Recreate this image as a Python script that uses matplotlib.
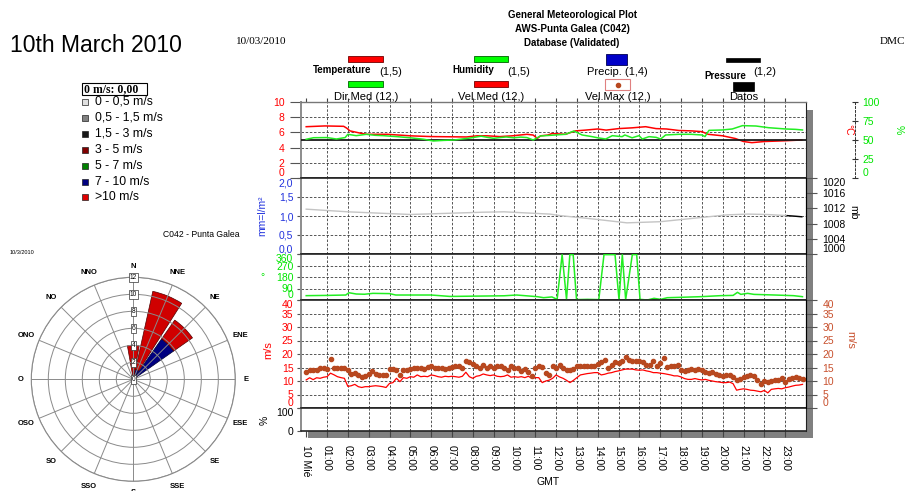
import numpy as np
import matplotlib
matplotlib.use('Agg')
import matplotlib.pyplot as plt
from matplotlib.patches import Rectangle
from matplotlib.lines import Line2D

plt.rcParams['font.family'] = ['Liberation Sans', 'DejaVu Sans']

# ---------------- data ----------------
hour_labels = ['10 Mié', '01:00', '02:00', '03:00', '04:00', '05:00', '06:00', '07:00',
               '08:00', '09:00', '10:00', '11:00', '12:00', '13:00', '14:00', '15:00',
               '16:00', '17:00', '18:00', '19:00', '20:00', '21:00', '22:00', '23:00']

temp_hours = [0, 0.9, 1.8, 1.95, 2.1, 2.6, 2.9, 3.9, 5.0, 6.0, 7.7, 8.2, 8.7, 9.3, 9.9, 10.6,
              10.9, 11.1, 11.25, 11.6, 11.8, 12.45, 12.93, 13.4, 14.0, 14.4, 15.0, 15.65, 16.3,
              16.8, 17.3, 17.9, 18.5, 19.0, 19.3, 20.0, 20.6, 21.0, 21.4, 22.0, 23.0, 23.8]
temp_values = [6.75, 6.85, 6.8, 6.55, 6.2, 5.9, 5.75, 5.75, 5.55, 5.45, 5.4, 5.55, 5.55, 5.45,
               5.55, 5.75, 5.65, 5.2, 5.55, 5.65, 5.85, 5.75, 6.2, 6.3, 6.45, 6.3, 6.5, 6.6,
               6.75, 6.5, 6.45, 6.25, 6.2, 6.1, 5.75, 5.55, 5.2, 4.8, 4.65, 4.8, 4.9, 5.0]

hum_hours = [0, 0.35, 1.0, 1.45, 1.87, 2.0, 2.4, 2.9, 3.3, 3.7, 4.36, 5.0, 5.64, 6.1, 6.6, 7.1,
             7.7, 8.0, 8.4, 8.7, 9.0, 9.3, 9.6, 9.97, 10.3, 10.6, 10.9, 11.25, 11.7, 11.97, 12.45,
             12.85, 13.25, 13.73, 14.0, 14.38, 14.7, 15.17, 15.3, 15.65, 15.98, 16.14, 16.46,
             16.8, 17.02, 17.26, 17.9, 18.5, 19.0, 19.15, 19.34, 19.98, 20.46, 20.95, 21.6,
             22.2, 23.03, 23.5, 23.83]
hum_values = [50.9, 53, 53.2, 51.3, 53.2, 57.5, 55.7, 57.5, 56.2, 55.7, 54.4, 52.9, 51, 48.7,
              49.5, 50, 52, 53.2, 55.0, 53.5, 52.2, 53.2, 54.0, 52.9, 53.8, 53.2, 50, 55.3, 56.1,
              56.6, 57.5, 61.8, 56.6, 54.4, 52.9, 51.3, 55.7, 54.4, 56.6, 52.9, 55.7, 51.3, 54.4,
              53.5, 51.3, 56.6, 57.5, 57.5, 56.6, 54.5, 62.7, 63.2, 64.5, 68.9, 68.4, 66.2,
              64.5, 64, 63.2]

pres_hours = [0, 2, 5, 8.5, 9.5, 11.7, 12.2, 13.8, 15.4, 17.0, 18.6, 20.2, 21.2, 22.1, 23.1, 23.8]
pres_values = [1011.8, 1011.1, 1010.4, 1011.0, 1011.1, 1010.5, 1010.1, 1009.2, 1008.2, 1008.5,
               1009.4, 1010.3, 1010.5, 1010.4, 1010.1, 1009.8]

dir_hours = [0, 1.0, 1.9, 2.05, 2.4, 2.8, 3.2, 4.0, 4.3, 6.0, 6.9, 8.5, 9.5, 10.1, 11.1, 11.4,
             11.8, 12.05, 12.29, 12.5, 12.66, 12.82, 12.98, 13.5, 14.05, 14.3, 14.83, 15.02,
             15.18, 15.34, 15.66, 15.87, 16.03, 16.38, 16.7, 17.02, 17.34, 17.98, 18.94, 19.9,
             20.5, 20.71, 20.87, 21.2, 21.5, 22.5, 23.4, 23.83]
dir_values = [34, 36, 39, 57, 47, 45, 52, 50, 39, 39, 28, 31, 33, 39, 26, 18, 24, 5, 355, 5,
              355, 355, 3, 5, 3, 355, 355, 3, 355, 3, 355, 355, 5, 0, 13, 5, 18, 21, 26, 34,
              36, 60, 44, 52, 44, 39, 34, 26]

# wind speed, 10-minute samples starting at 00:00
wind_mean = [10.4, 11.2, 10.5, 11.2, 11.0, 11.4, 11.6, 12.9, 12.3, 11.6, 11.25, 11.0,
             8.0, 8.25, 8.75, 7.9, 7.6, 7.9, 7.9, 8.1, 8.25, 8.1, 7.9, 7.6,
             9.1, 9.4, 11.0, 9.75, 11.25, 11.0, 11.6, 11.4, 12.25, 11.6, 11.75, 11.6,
             12.25, 12.0, 11.6, 11.4, 11.75, 11.6, 11.75, 11.6, 11.4, 11.75, 13.25, 11.6,
             11.0, 11.75, 12.0, 12.6, 12.25, 12.0, 12.25, 11.75, 11.6, 11.75, 12.25, 11.4,
             11.6, 11.4, 11.6, 11.25, 11.75, 11.0, 11.25, 11.25, 9.4, 10.0, 10.3, 11.0,
             12.25, 11.5, 11.0, 10.25, 9.4, 10.25, 11.25, 12.25, 12.5, 12.75, 12.9, 13.1,
             13.1, 12.25, 12.5, 12.9, 13.1, 13.5, 13.75, 14.1, 14.4, 14.4, 14.4, 14.1,
             14.0, 14.1, 13.75, 13.5, 13.1, 13.1, 12.9, 12.75, 12.5, 12.25, 11.9, 11.9,
             11.5, 10.9, 10.6, 10.6, 10.9, 10.6, 10.4, 10.6, 10.25, 10.0, 9.75, 9.6,
             9.4, 9.4, 9.6, 9.0, 6.6, 6.9, 7.1, 6.9, 6.6, 6.5, 6.25, 6.0,
             6.5, 5.6, 6.9, 7.1, 7.25, 7.1, 7.5, 7.75, 8.1, 8.4, 8.5, 8.75]
wind_gust = [13.3, 14.1, 13.9, 13.9, 14.7, 14.7, 14.3, 18.2, 15.0, 14.8, 15.0, 14.8,
             13.9, 12.6, 13.0, 12.3, 11.6, 12.0, 12.5, 13.8, 12.5, 12.3, 12.3, 12.1,
             14.4, 14.4, 14.1, 12.3, 14.1, 14.1, 14.4, 15.0, 14.8, 14.8, 14.4, 15.1,
             15.4, 15.0, 15.0, 14.8, 14.4, 14.8, 15.1, 15.4, 15.4, 14.8, 17.5, 17.0,
             16.3, 15.6, 15.0, 15.8, 14.8, 15.4, 15.0, 15.6, 15.4, 14.8, 14.1, 15.4,
             15.0, 15.0, 13.8, 14.5, 13.3, 12.0, 15.0, 15.4, 15.3, 12.9, 12.3, 15.4,
             15.0, 15.9, 14.75, 14.1, 14.1, 14.4, 15.6, 15.4, 15.4, 15.4, 15.4, 15.6,
             16.25, 16.9, 17.75, 15.0, 15.9, 17.1, 16.5, 17.5, 19.0, 17.9, 17.5, 17.25,
             17.25, 17.1, 15.9, 15.9, 17.5, 15.6, 16.6, 18.5, 15.25, 15.4, 15.4, 15.9,
             14.0, 13.75, 14.1, 14.4, 14.1, 14.4, 14.1, 13.5, 13.1, 13.4, 12.75, 12.25,
             11.9, 12.25, 12.25, 11.6, 10.25, 10.9, 11.5, 11.75, 12.25, 11.9, 10.25, 8.75,
             10.0, 9.6, 10.0, 10.25, 10.4, 11.25, 9.75, 10.6, 11.25, 11.5, 11.0, 10.9]
wind_times = np.arange(len(wind_mean)) / 6.0

rose_dirs = ['N', 'NNE', 'NE', 'ENE', 'E', 'ESE', 'SE', 'SSE',
             'S', 'SSO', 'SO', 'OSO', 'O', 'ONO', 'NO', 'NNO']
rose_7_10 = [0.0, 1.2, 5.8] + [0.0] * 13
rose_gt10 = [4.0, 9.4, 2.7] + [0.0] * 13
rose_ring_values = [0, 2, 4, 6, 8, 10, 12]

speed_classes = ['0 - 0,5 m/s', '0,5 - 1,5 m/s', '1,5 - 3 m/s', '3 - 5 m/s',
                 '5 - 7 m/s', '7 - 10 m/s', '>10 m/s']
speed_colors = ['#e0e0e0', '#808080', '#181818', '#800000', '#008000', '#000080', '#dd0000']

# ---------------- layout helpers ----------------
W, H = 909, 491
fig = plt.figure(figsize=(W / 100, H / 100), dpi=100)


def frac_rect(x0, y0, x1, y1):
    return [x0 / W, 1 - y1 / H, (x1 - x0) / W, (y1 - y0) / H]


def fx(x):
    return x / W


def fy(y):
    return 1 - y / H


def box(x0, y0, x1, y1, **kw):
    r = Rectangle((fx(x0), fy(y1)), (x1 - x0) / W, (y1 - y0) / H,
                  transform=fig.transFigure, **kw)
    fig.add_artist(r)
    return r


def ftext(x, y, s, **kw):
    kw.setdefault('va', 'center')
    return fig.text(fx(x), fy(y), s, **kw)


RED = '#ff0000'
GREEN = '#00e600'
BLUE = '#2233dd'
BROWN = '#b8481f'
GRID = dict(color='#3a3a3a', lw=0.6, ls=(0, (3, 2)))
TS = 7.5

# ---------------- header ----------------
ftext(10, 45, '10th March 2010', fontsize=16.5)
ftext(236, 41, '10/03/2010', fontsize=8, family='Liberation Serif')
ftext(880, 41, 'DMC', fontsize=8, family='Liberation Serif')
for txt, y in [('General Meteorological Plot', 15), ('AWS-Punta Galea (C042)', 29),
               ('Database (Validated)', 43)]:
    ftext(572, y, txt, fontsize=7, weight='bold', ha='center')

# legend row 1
box(348, 56, 383, 62, fc='#ff0000', ec='#700000', lw=0.6)
ftext(313, 70, 'Temperature', fontsize=7, weight='bold')
ftext(379, 72, '(1,5)', fontsize=8)
box(474, 56, 508, 62, fc='#00ff00', ec='#006000', lw=0.6)
ftext(452, 70, 'Humidity', fontsize=7, weight='bold')
ftext(507, 72, '(1,5)', fontsize=8)
box(606, 54, 627, 65, fc='#0000c8', ec='#000050', lw=0.6)
ftext(617, 72, 'Precip. (1,4)', fontsize=8, ha='center')
box(726, 58, 760, 62, fc='black', ec='black', lw=0.5)
ftext(704, 76, 'Pressure', fontsize=7, weight='bold')
ftext(753, 72, '(1,2)', fontsize=8)
# legend row 2
box(348, 81, 383, 87, fc='#00ff00', ec='#006000', lw=0.6)
ftext(366, 97, 'Dir.Med (12,)', fontsize=8, ha='center')
box(474, 81, 508, 87, fc='#ff0000', ec='#700000', lw=0.6)
ftext(491, 97, 'Vel.Med (12,)', fontsize=8, ha='center')
box(605, 79, 630, 90, fc='white', ec='#e08080', lw=0.8)
fig.add_artist(Line2D([fx(617.5)], [fy(84.5)], marker='o', ms=3, color=BROWN,
                      transform=fig.transFigure))
ftext(618, 97, 'Vel.Max (12,)', fontsize=8, ha='center')
box(733, 82, 754, 91, fc='black', ec='black', lw=0.5)
ftext(743.5, 97, 'Datos', fontsize=8, ha='center')

# ---------------- main panels ----------------
X0, X1 = 301, 806
panel_y = [(102, 178), (178, 254), (254, 300), (300, 408), (408, 431)]

# drop shadow
box(806, 110, 813, 438, fc='#808080', ec='none', zorder=-1)
box(308, 431, 813, 438, fc='#808080', ec='none', zorder=-1)

axes = []
for (y0, y1) in panel_y:
    ax = fig.add_axes(frac_rect(X0, y0, X1, y1))
    ax.set_xlim(-0.25, 24)
    ax.set_xticks(range(24))
    ax.tick_params(axis='x', bottom=False, top=False, labelbottom=False)
    for h in range(1, 24):
        ax.axvline(h, zorder=1, **GRID)
    ax.spines['left'].set_color('#8c8c8c')
    ax.spines['left'].set_linewidth(1.4)
    ax.spines['right'].set_color('#222')
    ax.spines['right'].set_linewidth(0.8)
    for s in ('top', 'bottom'):
        ax.spines[s].set_color('#222')
        ax.spines[s].set_linewidth(1.2)
    axes.append(ax)
ax1, ax2, ax3, ax4, ax5 = axes


def push_ends(ax, bottom=True, top=True):
    ticks = ax.yaxis.get_major_ticks()
    if bottom:
        ticks[0].label1.set_va('bottom')
        ticks[0].label2.set_va('bottom')
    if top:
        ticks[-1].label1.set_va('top')
        ticks[-1].label2.set_va('top')


def right_ticks(ax, color):
    ax.tick_params(axis='y', left=False, labelleft=False, right=True, labelright=True,
                   length=8, pad=4, color='#555', labelcolor=color, labelsize=TS,
                   direction='out')


def left_ticks(ax, color):
    ax.tick_params(axis='y', left=True, labelleft=True, right=False, labelright=False,
                   length=3, pad=2.5, color='#555', labelcolor=color, labelsize=TS,
                   direction='out')


# panel 1: temperature / humidity
ax1.set_ylim(0, 10)
ax1.set_yticks([0, 2, 4, 6, 8, 10])
right_ticks(ax1, RED)
for v in [2, 4, 6, 8]:
    ax1.axhline(v, zorder=1, **GRID)
ax1.tick_params(axis='x', top=True, length=3, color='#444', direction='out')
ax1.spines['top'].set_color('#777')
ax1.spines['top'].set_linewidth(1.0)
ax1.plot(temp_hours, temp_values, color=RED, lw=1.1, zorder=4)
push_ends(ax1, top=False)

ax1h = ax1.twinx()
ax1h.set_xlim(-0.25, 24)
ax1h.set_ylim(0, 100)
ax1h.set_yticks([0, 25, 50, 75, 100])
for s in ('left', 'top', 'bottom'):
    ax1h.spines[s].set_visible(False)
ax1h.spines['right'].set_position(('outward', 35))
ax1h.spines['right'].set_linestyle((0, (2, 2)))
ax1h.spines['right'].set_linewidth(0.7)
ax1h.spines['right'].set_color('#333')
ax1h.tick_params(axis='y', length=5, pad=3, direction='inout', color='#333',
                 labelcolor=GREEN, labelsize=TS)
ax1h.axhline(50, color='#1a1a1a', lw=1.3, zorder=2)
ax1h.plot(hum_hours, hum_values, color='#22ee22', lw=1.1, zorder=3)
push_ends(ax1h, top=False)

# panel 2: precipitation / pressure
ax2.set_ylim(0, 2)
ax2.set_yticks([0, 0.5, 1, 1.5, 2])
ax2.set_yticklabels(['0,0', '0,5', '1,0', '1,5', '2,0'])
left_ticks(ax2, BLUE)
for v in [0.5, 1.0, 1.5]:
    ax2.axhline(v, zorder=1, **GRID)
push_ends(ax2)

ax2r = ax2.twinx()
ax2r.set_xlim(-0.25, 24)
ax2r.set_ylim(1000, 1020)
ax2r.set_yticks([1000, 1004, 1008, 1012, 1016, 1020])
for s in ('left', 'top', 'bottom'):
    ax2r.spines[s].set_visible(False)
right_ticks(ax2r, 'black')
ax2r.plot(pres_hours, pres_values, color='#c4c4c4', lw=1.0, zorder=3)
ax2r.plot(pres_hours[-2:], pres_values[-2:], color='black', lw=1.0, zorder=3)
push_ends(ax2r)

# panel 3: direction
ax3.set_ylim(0, 360)
ax3.set_yticks([0, 90, 180, 270, 360])
left_ticks(ax3, GREEN)
for v in [90, 180, 270]:
    ax3.axhline(v, zorder=1, **GRID)
ax3.plot(dir_hours, dir_values, color='#22ee22', lw=1.1, zorder=3)
push_ends(ax3)

# panel 4: wind speed
ax4.set_ylim(0, 40)
ax4.set_yticks(range(0, 41, 5))
left_ticks(ax4, RED)
for v in range(5, 40, 5):
    ax4.axhline(v, zorder=1, **GRID)
ax4.plot(wind_times, wind_mean, color=RED, lw=0.9, zorder=3)
ax4.plot(wind_times, wind_gust, ls='none', marker='o', ms=3.0, color=BROWN, zorder=4)
push_ends(ax4)

ax4r = ax4.twinx()
ax4r.set_xlim(-0.25, 24)
ax4r.set_ylim(0, 40)
ax4r.set_yticks(range(0, 41, 5))
for s in ('left', 'top', 'bottom'):
    ax4r.spines[s].set_visible(False)
right_ticks(ax4r, '#c8502d')
push_ends(ax4r)

# panel 5: percentage (empty)
ax5.set_ylim(0, 100)
ax5.set_yticks([0, 100])
left_ticks(ax5, 'black')
ax5.tick_params(axis='x', bottom=True, labelbottom=True, length=4, pad=6, color='#444',
                direction='out', labelsize=TS)
ax5.set_xticklabels(hour_labels, rotation=-90)
ticks5 = ax5.yaxis.get_major_ticks()
ticks5[-1].label1.set_va('top')

# axis titles
ftext(262, 216, 'mm=l/m²', fontsize=TS, color=BLUE, rotation=90, ha='center')
ftext(262, 277, '°', fontsize=TS, color=GREEN, ha='center')
ftext(268, 350, 'm/s', fontsize=8, color=RED, rotation=90, ha='center')
ftext(265, 420, '%', fontsize=TS, color='black', rotation=90, ha='center')
ftext(848, 130, '°C', fontsize=TS, color=RED, rotation=-90, ha='center')
ftext(899, 130, '%', fontsize=TS, color=GREEN, rotation=-90, ha='center')
ftext(853, 212, 'mb', fontsize=TS, color='black', rotation=-90, ha='center')
ftext(850, 340, 'm/s', fontsize=8, color='#c8502d', rotation=-90, ha='center')
ftext(548, 482, 'GMT', fontsize=7.5, ha='center')

# ---------------- wind rose legend ----------------
box(82, 83, 147, 95, fc='white', ec='black', lw=0.8)
ftext(84, 89, '0 m/s: 0,00', fontsize=8.5, weight='bold', family='Liberation Serif')
rows = [102, 118, 134, 150, 166, 182, 197]
for lab, col, yy in zip(speed_classes, speed_colors, rows):
    box(82, yy - 3, 88, yy + 3, fc=col, ec='#222', lw=0.5)
    ftext(95, yy, lab, fontsize=8.8)
ftext(163, 235, 'C042 - Punta Galea', fontsize=6.2)
ftext(10, 252, '10/3/2010', fontsize=4)

# ---------------- wind rose ----------------
cx, cy, R = 133.3, 379.3, 102
axr = fig.add_axes(frac_rect(cx - R, cy - R, cx + R, cy + R), projection='polar')
axr.set_theta_zero_location('N')
axr.set_theta_direction(-1)
axr.set_ylim(0, 12)
axr.set_yticks([2, 4, 6, 8, 10, 12])
axr.set_yticklabels([])
theta = np.deg2rad(np.arange(16) * 22.5)
axr.set_xticks(theta)
axr.set_xticklabels([])
axr.grid(color='#8a8a8a', lw=0.7)
axr.set_axisbelow(False)
axr.spines['polar'].set_color('#8a8a8a')
axr.spines['polar'].set_linewidth(0.8)
width = np.deg2rad(20)
axr.bar(theta, rose_7_10, width=width, bottom=0, color='#000080', edgecolor='#000030',
        lw=0.5, zorder=1)
axr.bar(theta, rose_gt10, width=width, bottom=rose_7_10, color='#d00000',
        edgecolor='#500000', lw=0.5, zorder=1)
for rv in rose_ring_values:
    axr.text(0, rv, str(rv), fontsize=4.8, ha='center', va='center', zorder=6,
             bbox=dict(boxstyle='square,pad=0.12', fc='white', ec='#333', lw=0.5))
for name, th in zip(rose_dirs, theta):
    rr = 13.3 if len(name) == 1 else 13.6
    axr.text(th, rr, name, fontsize=5.5, weight='bold', ha='center', va='center',
             clip_on=False)

fig.savefig('out.png', dpi=100)
